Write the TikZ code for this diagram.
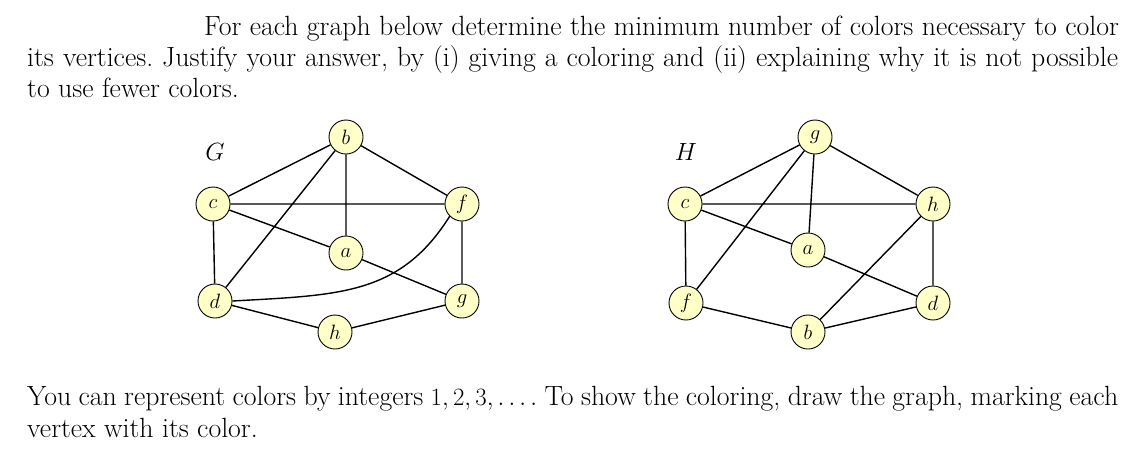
\documentclass[tikz,border=0pt]{standalone}
\begin{document}
\frenchspacing
\begin{tikzpicture}[x=1pt,y=-1pt,
  v/.style={circle,draw,line width=0.9pt,fill={rgb,255:red,255;green,255;blue,200},minimum size=34pt,inner sep=0pt,font=\fontsize{21}{21}\selectfont},
  e/.style={line width=1.4pt},
  txt/.style={anchor=base west,inner sep=0pt,font=\fontsize{27.8}{30}\selectfont}]
\useasboundingbox (0,0) rectangle (1131,451);
\node[txt] (t1) at (204,35) {For each graph below determine the minimum number of colors necessary to color};
\node[txt] (t2) at (27,66) {\hbox to 1091pt{its vertices. Justify your answer, by (i) giving a coloring and (ii) explaining why it is not possible}};
\node[txt] (t3) at (27,97) {to use fewer colors.};
\node[txt] (t4) at (27,405) {\hbox to 1091pt{You can represent colors by integers $1,2,3,\ldots.$ To show the coloring, draw the graph, marking each}};
\node[txt] (t5) at (27,437) {vertex with its color.};
\node[font=\fontsize{28}{28}\selectfont] (lG) at (215,152) {$G$};
\node[font=\fontsize{28}{28}\selectfont] (lH) at (686,152) {$H$};
\node[v] (b) at (346,137) {$b$};
\node[v] (c) at (213,204) {$c$};
\node[v] (f) at (462,204) {$f$};
\node[v] (a) at (346,253) {$a$};
\node[v] (d) at (215,301) {$d$};
\node[v] (g) at (462,301) {$g$};
\node[v] (h) at (335,332) {$h$};
\draw[e] (b)--(c) (b)--(f) (b)--(a) (b)--(d) (c)--(f) (c)--(a) (c)--(d) (a)--(g) (f)--(g) (d)--(h) (h)--(g);
\draw[e] (d.east) .. controls (340,295) and (400,295) .. (f.south west);
\node[v] (Hg) at (815,137) {$g$};
\node[v] (Hc) at (685,204) {$c$};
\node[v] (Hh) at (933,204) {$h$};
\node[v] (Ha) at (808,250) {$a$};
\node[v] (Hf) at (686,303) {$f$};
\node[v] (Hd) at (933,303) {$d$};
\node[v] (Hb) at (808,332) {$b$};
\draw[e] (Hg)--(Hc) (Hg)--(Hh) (Hg)--(Ha) (Hg)--(Hf) (Hc)--(Hh) (Hc)--(Ha) (Hc)--(Hf) (Ha)--(Hd) (Hh)--(Hd) (Hh)--(Hb) (Hf)--(Hb) (Hb)--(Hd);
\end{tikzpicture}
\end{document}
